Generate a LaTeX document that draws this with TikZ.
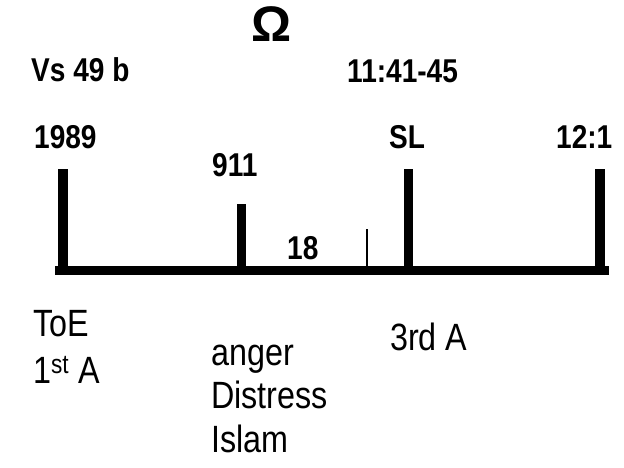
\documentclass[tikz,border=0pt]{standalone}
\usepackage{fontspec}
\setmainfont{Liberation Sans}[FakeStretch=0.85]
\newfontfamily\omegafont{Liberation Sans}
\usetikzlibrary{positioning}

\begin{document}
\begin{tikzpicture}[x=1pt, y=-1pt,
  tick/.style={line width=9.5pt},
  toplbl/.style={font=\bfseries\fontsize{33}{36}\selectfont, inner sep=0pt, anchor=base west},
  note/.style={font=\fontsize{38}{44}\selectfont, inner sep=0pt, anchor=base west}]
  \useasboundingbox (0,0) rectangle (624,467);
  % time line and its marks
  \coordinate (start) at (55,270.5);
  \coordinate (end) at (609,270.5);
  \draw[line width=9.5pt] (start) -- (end);
  \foreach \name/\x/\y in {y1989/63/169, y911/241.5/204, sl/408.5/169, ch12/600/169} {
    \coordinate (\name-top) at (\x,\y);
    \coordinate (\name-bot) at (\x,270);
    \draw[tick] (\name-top) -- (\name-bot);
  }
  \coordinate (mark-top) at (367,229);
  \coordinate (mark-bot) at (367,266);
  \draw[line width=1.6pt] (mark-top) -- (mark-bot);
  % labels above
  \node[font=\omegafont\bfseries\fontsize{50}{52}\selectfont, inner sep=0pt, anchor=base] (omega) at (272,41) {Ω};
  \node[toplbl] (vs) at (31,81) {Vs 49 b};
  \node[toplbl] (ch11) at (347,82) {11:41-45};
  \node[toplbl] (l1989) at (34,148) {1989};
  \node[toplbl] (l911) at (212,176) {911};
  \node[toplbl] (lsl) at (389,148) {SL};
  \node[toplbl] (l12) at (556,148) {12:1};
  \node[toplbl] (l18) at (287,259) {18};
  % notes below
  \node[note] (toe) at (33,336) {ToE};
  \node[note] (first) at (33,383) {1\textsuperscript{st} A};
  \node[note] (anger) at (211,365) {anger};
  \node[note] (distress) at (211,408) {Distress};
  \node[note] (islam) at (211,452) {Islam};
  \node[note] (third) at (390,350) {3rd A};
\end{tikzpicture}
\end{document}
